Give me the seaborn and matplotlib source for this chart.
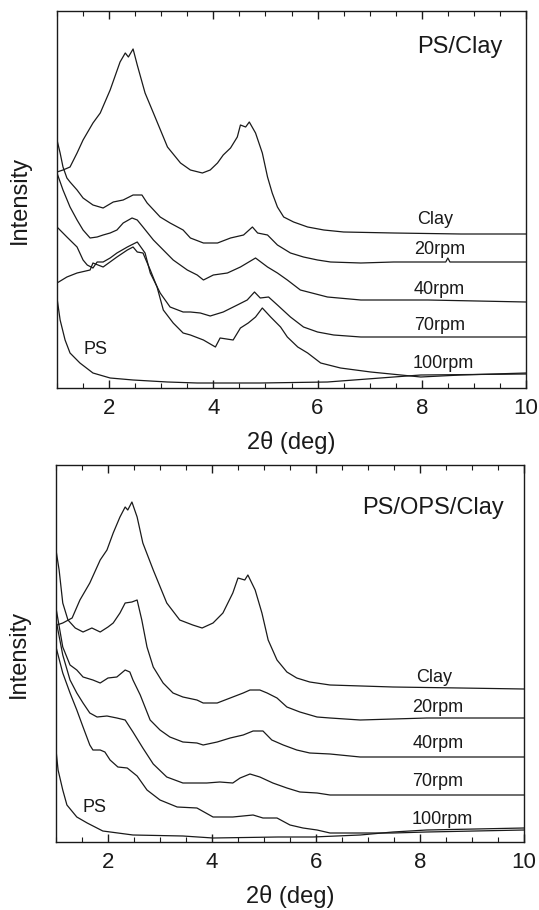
import matplotlib
matplotlib.use("Agg")
import matplotlib.pyplot as plt
import seaborn as sns
from matplotlib.ticker import MultipleLocator, NullLocator

# ---------------- data (2theta in deg, intensity in arbitrary units) ----------------
# Top panel: PS/Clay
top_clay_x = [1.00, 1.115, 1.25, 1.385, 1.50, 1.69, 1.83, 2.02, 2.21, 2.31, 2.37, 2.46, 2.54, 2.69, 2.85, 3.12, 3.37, 3.56, 3.79, 3.94, 4.08, 4.19, 4.33, 4.46, 4.52, 4.62, 4.69, 4.81, 4.94, 5.04, 5.13, 5.23, 5.35, 5.54, 5.81, 6.12, 6.50, 7.46, 8.75, 10.0]
top_clay_y = [216, 218, 221, 235, 248, 265, 275, 298, 326, 335, 331, 339, 323, 295, 275, 241, 225, 218, 215, 218, 225, 233, 240, 251, 263, 261, 266, 255, 235, 211, 195, 181, 171, 166, 161, 158, 156, 155, 154, 154]

top_20_x = [1.00, 1.06, 1.115, 1.19, 1.25, 1.385, 1.50, 1.69, 1.885, 2.08, 2.27, 2.46, 2.63, 2.73, 2.98, 3.17, 3.42, 3.56, 3.81, 4.08, 4.33, 4.58, 4.75, 4.85, 5.04, 5.23, 5.48, 5.73, 6.00, 6.25, 6.83, 7.46, 8.12, 8.46, 8.50, 8.54, 9.08, 10.0]
top_20_y = [248, 235, 221, 210, 206, 198, 190, 183, 180, 186, 188, 193, 193, 185, 171, 165, 158, 150, 145, 145, 150, 153, 161, 155, 153, 143, 135, 131, 128, 126, 125, 126, 126, 126, 130, 126, 126, 126]

top_40_x = [1.00, 1.115, 1.25, 1.385, 1.50, 1.635, 1.77, 1.885, 2.02, 2.15, 2.27, 2.44, 2.54, 2.65, 2.85, 3.04, 3.23, 3.50, 3.69, 3.81, 4.00, 4.27, 4.52, 4.81, 5.04, 5.23, 5.42, 5.67, 6.19, 6.83, 8.12, 10.0]
top_40_y = [215, 198, 181, 168, 158, 150, 151, 153, 155, 158, 165, 170, 168, 161, 148, 138, 128, 118, 113, 108, 113, 115, 121, 130, 121, 115, 108, 98, 91, 88, 88, 86]

top_70_x = [1.00, 1.19, 1.385, 1.50, 1.58, 1.69, 1.77, 1.885, 2.02, 2.15, 2.35, 2.54, 2.69, 2.79, 2.98, 3.17, 3.42, 3.56, 3.75, 3.94, 4.19, 4.46, 4.65, 4.79, 4.90, 5.06, 5.23, 5.48, 5.73, 6.00, 6.31, 6.83, 8.12, 10.0]
top_70_y = [161, 151, 141, 128, 123, 120, 126, 126, 130, 135, 141, 146, 135, 115, 95, 81, 76, 76, 75, 72, 76, 83, 88, 96, 90, 91, 83, 71, 61, 56, 53, 51, 51, 51]

top_100_x = [1.00, 1.19, 1.385, 1.635, 1.69, 1.885, 2.15, 2.35, 2.46, 2.54, 2.65, 2.79, 2.92, 3.04, 3.23, 3.42, 3.56, 3.81, 4.04, 4.13, 4.38, 4.52, 4.67, 4.81, 4.94, 5.10, 5.29, 5.42, 5.62, 5.81, 6.06, 6.44, 7.02, 7.60, 7.98, 8.75, 10.0]
top_100_y = [105, 111, 115, 118, 125, 121, 131, 138, 141, 136, 135, 118, 101, 78, 65, 55, 53, 48, 41, 50, 48, 60, 65, 71, 80, 71, 61, 51, 41, 35, 25, 20, 16, 13, 11, 13, 15]

top_ps_x = [1.00, 1.06, 1.155, 1.25, 1.44, 1.69, 2.02, 2.46, 3.12, 3.69, 4.00, 4.90, 6.19, 7.46, 7.98, 10.0]
top_ps_y = [90, 68, 48, 35, 25, 15, 10, 8, 6, 5, 5, 5, 6, 11, 13, 14]

# Bottom panel: PS/OPS/Clay
bot_clay_x = [1.02, 1.13, 1.31, 1.46, 1.65, 1.85, 1.98, 2.10, 2.23, 2.33, 2.38, 2.46, 2.56, 2.67, 2.87, 3.13, 3.38, 3.63, 3.81, 4.02, 4.21, 4.40, 4.50, 4.63, 4.69, 4.83, 4.96, 5.08, 5.25, 5.44, 5.63, 5.88, 6.27, 7.48, 8.77, 10.0]
bot_clay_y = [217, 219, 224, 242, 259, 282, 292, 309, 325, 335, 332, 340, 325, 299, 272, 239, 222, 217, 214, 219, 229, 249, 264, 262, 267, 252, 229, 202, 182, 170, 164, 160, 157, 155, 154, 153]

bot_20_x = [1.00, 1.06, 1.13, 1.23, 1.37, 1.52, 1.69, 1.85, 2.00, 2.10, 2.23, 2.33, 2.46, 2.56, 2.65, 2.75, 2.87, 3.06, 3.25, 3.44, 3.71, 3.83, 4.10, 4.35, 4.60, 4.73, 4.92, 5.06, 5.25, 5.44, 5.69, 6.02, 6.27, 6.85, 8.13, 10.0]
bot_20_y = [292, 272, 239, 222, 214, 210, 214, 210, 215, 219, 229, 239, 240, 242, 222, 195, 175, 159, 149, 145, 142, 139, 139, 144, 149, 152, 152, 149, 144, 135, 130, 125, 124, 122, 124, 124]

bot_40_x = [1.00, 1.13, 1.27, 1.40, 1.52, 1.71, 1.85, 2.00, 2.17, 2.33, 2.42, 2.48, 2.62, 2.81, 3.00, 3.19, 3.44, 3.71, 3.83, 4.10, 4.35, 4.60, 4.79, 4.98, 5.15, 5.37, 5.63, 5.88, 6.27, 6.85, 8.13, 10.0]
bot_40_y = [234, 195, 177, 172, 165, 162, 159, 164, 165, 172, 170, 162, 147, 122, 112, 105, 100, 99, 97, 100, 104, 107, 111, 111, 102, 97, 92, 89, 88, 85, 85, 85]

bot_70_x = [1.00, 1.13, 1.27, 1.40, 1.52, 1.65, 1.79, 1.98, 2.17, 2.33, 2.48, 2.67, 2.87, 3.13, 3.44, 3.71, 3.90, 4.15, 4.40, 4.54, 4.73, 4.92, 5.17, 5.44, 5.69, 6.02, 6.27, 6.85, 8.13, 10.0]
bot_70_y = [222, 187, 162, 149, 139, 129, 125, 126, 124, 122, 110, 94, 78, 65, 59, 59, 59, 60, 59, 64, 68, 65, 59, 54, 50, 49, 47, 47, 47, 47]

bot_100_x = [1.00, 1.13, 1.27, 1.40, 1.52, 1.65, 1.71, 1.85, 1.94, 2.04, 2.19, 2.37, 2.56, 2.75, 3.00, 3.33, 3.71, 4.02, 4.40, 4.79, 4.98, 5.25, 5.50, 5.75, 6.02, 6.27, 6.85, 7.48, 8.13, 10.0]
bot_100_y = [195, 169, 149, 132, 115, 97, 92, 92, 90, 82, 75, 74, 66, 52, 42, 35, 34, 25, 25, 27, 24, 24, 17, 14, 12, 9, 9, 9, 10, 12]

bot_ps_x = [1.00, 1.04, 1.13, 1.21, 1.40, 1.60, 1.90, 2.48, 3.44, 4.02, 5.27, 5.94, 6.85, 7.48, 8.13, 10.0]
bot_ps_y = [92, 72, 52, 37, 25, 19, 11, 7, 6, 4, 5, 5, 7, 10, 12, 14]

series_labels = ["Clay", "20rpm", "40rpm", "70rpm", "100rpm", "PS"]
panel_titles = ["PS/Clay", "PS/OPS/Clay"]
xticks_major = [2, 4, 6, 8, 10]

# ---------------- styling ----------------
sns.set_style("ticks")
plt.rcParams["font.family"] = ["Liberation Sans", "DejaVu Sans"]
plt.rcParams["axes.linewidth"] = 1.0

fig = plt.figure(figsize=(5.39, 9.10), dpi=100)
ax_top = fig.add_axes([57 / 539, 1 - 388 / 910, (526 - 57) / 539, (388 - 11) / 910])
ax_bot = fig.add_axes([56 / 539, 1 - 842 / 910, (524 - 56) / 539, (842 - 465) / 910])

line_kw = dict(color="#1a1a1a", linewidth=0.9, estimator=None, sort=False)

top_series = [(top_clay_x, top_clay_y), (top_20_x, top_20_y), (top_40_x, top_40_y),
              (top_70_x, top_70_y), (top_100_x, top_100_y), (top_ps_x, top_ps_y)]
bot_series = [(bot_clay_x, bot_clay_y), (bot_20_x, bot_20_y), (bot_40_x, bot_40_y),
              (bot_70_x, bot_70_y), (bot_100_x, bot_100_y), (bot_ps_x, bot_ps_y)]

# label positions (x in deg, y in intensity units)
top_label_pos = [(7.92, 168), (7.85, 139), (7.85, 99), (7.85, 62), (7.83, 25), (1.5, 38)]
bot_label_pos = [(7.92, 164), (7.85, 135), (7.85, 99), (7.85, 60), (7.83, 23), (1.5, 35)]

for ax, series, lpos, title, tpos in [
    (ax_top, top_series, top_label_pos, panel_titles[0], (7.92, 341)),
    (ax_bot, bot_series, bot_label_pos, panel_titles[1], (6.88, 334)),
]:
    for (xs, ys) in series:
        sns.lineplot(x=xs, y=ys, ax=ax, **line_kw)
    for lab, (lx, ly) in zip(series_labels, lpos):
        ax.text(lx, ly, lab, fontsize=13, ha="left", va="center", color="#1a1a1a")
    ax.text(tpos[0], tpos[1], title, fontsize=17, ha="left", va="center", color="#1a1a1a")

    ax.set_xlim(1, 10)
    ax.set_ylim(0, 377)
    ax.set_xticks(xticks_major)
    ax.set_xticklabels([str(t) for t in xticks_major])
    ax.xaxis.set_minor_locator(MultipleLocator(0.5))
    ax.yaxis.set_major_locator(NullLocator())
    ax.yaxis.set_minor_locator(NullLocator())
    ax.tick_params(axis="x", which="both", direction="in", top=True, bottom=True,
                   labelsize=16, pad=7, colors="#1a1a1a")
    ax.tick_params(axis="x", which="major", length=6, width=1.0)
    ax.tick_params(axis="x", which="minor", length=3.5, width=0.8)
    ax.set_xlabel("2θ (deg)", fontsize=17, labelpad=9, color="#1a1a1a")
    ax.set_ylabel("Intensity", fontsize=17, labelpad=19, color="#1a1a1a")
    for sp in ax.spines.values():
        sp.set_visible(True)
        sp.set_color("#1a1a1a")

fig.savefig("out.png", dpi=100)
